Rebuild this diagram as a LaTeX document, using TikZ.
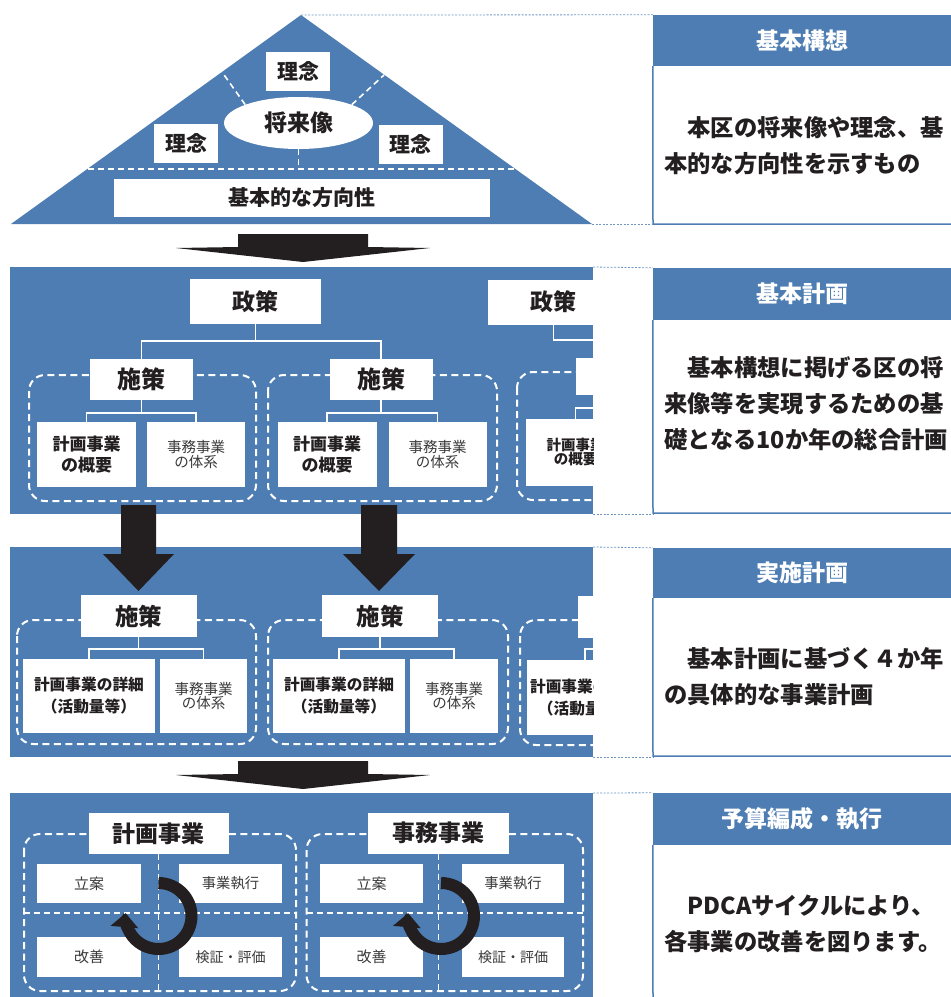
\documentclass[tikz,border=0pt]{standalone}
\usepackage{fontspec}
\setmainfont{Noto Sans CJK JP}
\usetikzlibrary{arrows.meta,shapes.geometric}
\definecolor{planblue}{RGB}{77,125,178}
\definecolor{inkblack}{RGB}{35,31,32}
\definecolor{softgray}{RGB}{58,58,58}
\pgfdeclarelayer{bg}
\pgfsetlayers{bg,main}
\newcommand{\jsize}[2]{\fontsize{#1}{#2}\selectfont}

\begin{document}
\begin{tikzpicture}[x=1pt,y=-1pt,
        wbox/.style={fill=white, inner sep=0pt, align=center, text=inkblack},
        thinbox/.style={fill=white, inner sep=0pt, align=center, text=softgray},
        headbar/.style={fill=planblue, text=white, font=\bfseries\jsize{23}{28},
                inner sep=0pt, minimum width=298pt},
        notetext/.style={align=left, anchor=west, text=inkblack, inner sep=0pt,
                font=\bfseries\jsize{23.3}{36}},
        tree/.style={white, line width=1.6pt},
        wdash/.style={white, line width=1.6pt, dash pattern=on 6pt off 4pt},
        grouprim/.style={white, line width=2pt, dash pattern=on 7pt off 4.5pt,
                rounded corners=16pt},
        guide/.style={planblue!80, line width=0.8pt, dash pattern=on 2pt off 1.5pt},
        panelline/.style={planblue, line width=1.5pt},
        pdca/.style={inkblack, line width=12pt, -{Triangle[length=14pt,width=27pt]}},
        bigarrow/.style={fill=inkblack}
]
        \useasboundingbox (0,0) rectangle (951,997);
        \begin{pgfonlayer}{bg}
                \fill [planblue] (301,15) -- (592,224) -- (11,224) -- cycle;
                \fill [planblue] (10,267) rectangle (593,514);
                \fill [planblue] (10,547) rectangle (593,757);
                \fill [planblue] (10,793) rectangle (593,997);
        \end{pgfonlayer}

        % basic concept
        \coordinate (apex) at (301,15);
        \coordinate (edgeL) at (222,72);
        \coordinate (edgeR) at (384,75);
        \coordinate (baseL) at (88,169);
        \coordinate (baseR) at (518,169);
        \draw [wdash] (baseL) -- (baseR);
        \node (vision) [fill=white, ellipse, inner sep=0pt, minimum width=149pt,
                minimum height=52pt, text=inkblack, font=\bfseries\jsize{23}{28}]
                at (298.5,123) {将来像};
        \draw [wdash] (vision.161) -- (edgeL);
        \draw [wdash] (vision.19) -- (edgeR);
        \draw [wdash] (vision.south) -- (vision.south |- baseL);
        \node (idea1) [wbox, minimum width=64pt, minimum height=39pt,
                font=\bfseries\jsize{21}{24}] at (298,71.5) {理念};
        \node (idea2) [wbox, minimum width=64pt, minimum height=39pt,
                font=\bfseries\jsize{21}{24}] at (186,143.5) {理念};
        \node (idea3) [wbox, minimum width=64pt, minimum height=39pt,
                font=\bfseries\jsize{21}{24}] at (410.5,144.5) {理念};
        \node (course) [wbox, minimum width=376pt, minimum height=38pt,
                font=\bfseries\jsize{21}{24}] at (302,198) {基本的な方向性};

        % block arrows
        \fill [bigarrow] (238,234) -- (368,234) -- (368,247) -- (430,248) -- (303,262)
                -- (176,248) -- (238,247) -- cycle;
        \fill [bigarrow] (238,761) -- (368,761) -- (368,774) -- (430,775) -- (303,789)
                -- (176,775) -- (238,774) -- cycle;
        \fill [bigarrow] (121,505) -- (156,505) -- (156,554) -- (174,554) -- (138.5,591)
                -- (103,554) -- (121,554) -- cycle;
        \fill [bigarrow] (361,505) -- (397,505) -- (397,554) -- (415,554) -- (379,591)
                -- (343,554) -- (361,554) -- cycle;

        % basic plan
        \begin{scope}
                \clip (10,267) rectangle (593,514);
                \draw [grouprim] (29,375) rectangle (256,501);
                \draw [grouprim] (268,375) rectangle (497,501);
                \draw [grouprim] (517,372) rectangle (745,500);
                \node (policy1) [wbox, minimum width=131pt, minimum height=45pt,
                        font=\bfseries\jsize{23}{28}] at (255.5,301.5) {政策};
                \node (policy2) [wbox, minimum width=131pt, minimum height=45pt,
                        font=\bfseries\jsize{23}{28}] at (553.5,302) {政策};
                \node (measure1) [wbox, minimum width=103pt, minimum height=41pt,
                        font=\bfseries\jsize{24}{28}] at (141.5,379.5) {施策};
                \node (measure2) [wbox, minimum width=103pt, minimum height=41pt,
                        font=\bfseries\jsize{24}{28}] at (381,379.5) {施策};
                \node (measure3) [wbox, minimum width=103pt, minimum height=37pt,
                        font=\bfseries\jsize{24}{28}] at (627.5,376) {施策};
                \node (outline1) [wbox, minimum width=99pt, minimum height=65pt,
                        font=\bfseries\jsize{17}{21}] at (86.5,454.5) {計画事業\\の概要};
                \node (system1) [thinbox, minimum width=98pt, minimum height=65pt,
                        font=\jsize{14.5}{13}] at (196,454.5) {事務事業\\の体系};
                \node (outline2) [wbox, minimum width=99pt, minimum height=65pt,
                        font=\bfseries\jsize{17}{21}] at (327,454.5) {計画事業\\の概要};
                \node (system2) [thinbox, minimum width=98pt, minimum height=65pt,
                        font=\jsize{14.5}{13}] at (437.5,454.5) {事務事業\\の体系};
                \node (outline3) [wbox, minimum width=99pt, minimum height=67pt,
                        font=\bfseries\jsize{14.5}{14}] at (575.5,452.5) {計画事業\\の概要};
                \draw [tree] (policy1.south) -- ++(0,17) -| (measure1.north);
                \draw [tree] (policy1.south) -- ++(0,17) -| (measure2.north);
                \draw [tree] (policy2.south) -- ++(0,15) -| (measure3.north);
                \draw [tree] (measure1.south) -- ++(0,13) -| (outline1.north);
                \draw [tree] (measure1.south) -- ++(0,13) -| (system1.north);
                \draw [tree] (measure2.south) -- ++(0,13) -| (outline2.north);
                \draw [tree] (measure2.south) -- ++(0,13) -| (system2.north);
                \draw [tree] (measure3.south) -- ++(0,13) -| (outline3.north);
        \end{scope}

        % implementation plan
        \begin{scope}
                \clip (10,547) rectangle (593,757);
                \draw [grouprim] (17,620) rectangle (256,744);
                \draw [grouprim] (268,620) rectangle (508,744);
                \draw [grouprim] (520,620) rectangle (759,745);
                \node (act1) [wbox, minimum width=116pt, minimum height=42pt,
                        font=\bfseries\jsize{23.5}{28}] at (138.5,616) {施策};
                \node (act2) [wbox, minimum width=116pt, minimum height=42pt,
                        font=\bfseries\jsize{23.5}{28}] at (380,616) {施策};
                \node (act3) [wbox, minimum width=116pt, minimum height=42pt,
                        font=\bfseries\jsize{23.5}{28}] at (636,617) {施策};
                \node (detail1) [wbox, minimum width=132pt, minimum height=74pt,
                        font=\bfseries\jsize{15.7}{22}] at (89,696) {計画事業の詳細\\（活動量等）};
                \node (frame1) [thinbox, minimum width=87pt, minimum height=74pt,
                        font=\jsize{14.5}{14}] at (203.5,696) {事務事業\\の体系};
                \node (detail2) [wbox, minimum width=132pt, minimum height=74pt,
                        font=\bfseries\jsize{15.7}{22}] at (339,696) {計画事業の詳細\\（活動量等）};
                \node (frame2) [thinbox, minimum width=88pt, minimum height=74pt,
                        font=\jsize{14.5}{14}] at (454,696) {事務事業\\の体系};
                \node (detail3) [wbox, minimum width=116pt, minimum height=75pt,
                        font=\bfseries\jsize{15.7}{22}] at (585,697.5) {計画事業の詳細\\（活動量等）};
                \draw [tree] (act1.south) -- ++(0,12) -| (detail1.north);
                \draw [tree] (act1.south) -- ++(0,12) -| (frame1.north);
                \draw [tree] (act2.south) -- ++(0,12) -| (detail2.north);
                \draw [tree] (act2.south) -- ++(0,12) -| (frame2.north);
                \draw [tree] (act3.south) -- ++(0,11) -| (detail3.north);
        \end{scope}

        % budget and execution
        \draw [grouprim] (24,834) rectangle (296,991);
        \draw [grouprim] (306.5,834) rectangle (583,991);
        \coordinate (cross1) at (24,913);
        \coordinate (cross2) at (306.5,913);
        \node (plan1) [wbox, minimum width=140pt, minimum height=41pt,
                font=\bfseries\jsize{23}{28}] at (158.5,833.5) {計画事業};
        \node (plan2) [wbox, minimum width=141pt, minimum height=41pt,
                font=\bfseries\jsize{23}{28}] at (438.5,833) {事務事業};
        \draw [wdash, line width=1.4pt] (plan1.south) -- ++(0,137);
        \draw [wdash, line width=1.4pt] (plan2.south) -- ++(0,137);
        \draw [wdash, line width=1.4pt] (cross1) -- ++(272,0);
        \draw [wdash, line width=1.4pt] (cross2) -- ++(276.5,0);
        \node (draft1) [thinbox, minimum width=104pt, minimum height=39pt,
                font=\jsize{15}{18}] at (89,883.5) {立案};
        \node (exec1) [thinbox, minimum width=103pt, minimum height=39pt,
                font=\jsize{14.3}{18}] at (230.5,883.5) {事業執行};
        \node (improve1) [thinbox, minimum width=104pt, minimum height=40pt,
                font=\jsize{15}{18}] at (89,957) {改善};
        \node (check1) [thinbox, minimum width=103pt, minimum height=40pt,
                font=\jsize{14}{18}] at (230.5,957) {検証・評価};
        \node (draft2) [thinbox, minimum width=103pt, minimum height=39pt,
                font=\jsize{15}{18}] at (371.5,883.5) {立案};
        \node (exec2) [thinbox, minimum width=102pt, minimum height=39pt,
                font=\jsize{14.3}{18}] at (513,883.5) {事業執行};
        \node (improve2) [thinbox, minimum width=103pt, minimum height=40pt,
                font=\jsize{15}{18}] at (371.5,957) {改善};
        \node (check2) [thinbox, minimum width=102pt, minimum height=40pt,
                font=\jsize{14}{18}] at (513,957) {検証・評価};
        \coordinate (hub1) at (158.5,916);
        \coordinate (hub2) at (441,916);
        \draw [pdca] (hub1) ++(-90:33) arc [start angle=-90, end angle=185, radius=33];
        \draw [pdca] (hub2) ++(-90:33) arc [start angle=-90, end angle=185, radius=33];

        % side panels
        \node (h1) [headbar, minimum height=51pt] at (802,40.5) {基本構想};
        \node (h2) [headbar, minimum height=52pt] at (802,294) {基本計画};
        \node (h3) [headbar, minimum height=50pt] at (802,573) {実施計画};
        \node (h4) [headbar, minimum height=52pt] at (802,819) {予算編成・執行};
        \draw [panelline] (h1.south west) -- (653,224) -- (951,224);
        \draw [panelline] (h2.south west) -- (653,513) -- (951,513);
        \draw [panelline] (h3.south west) -- (653,756) -- (951,756);
        \draw [panelline] (h4.south west) -- (653,997);
        \node (n1) [notetext] at (664,145.5) {　本区の将来像や理念、基\\本的な方向性を示すもの};
        \node (n2) [notetext] at (664,404) {　基本構想に掲げる区の将\\来像等を実現するための基\\礎となる10か年の総合計画};
        \node (n3) [notetext] at (664,676.5) {　基本計画に基づく４か年\\の具体的な事業計画};
        \node (n4) [notetext] at (664,924) {　PDCAサイクルにより、\\各事業の改善を図ります。};

        % guides
        \draw [guide] (apex) -- (h1.north west);
        \draw [guide] (592,224) -- (653,224);
        \draw [guide] (593,267) -- (h2.north west);
        \draw [guide] (593,514) -- (653,514);
        \draw [guide] (593,547) -- (h3.north west);
        \draw [guide] (593,757) -- (653,757);
        \draw [guide] (593,793) -- (h4.north west);
\end{tikzpicture}
\end{document}
